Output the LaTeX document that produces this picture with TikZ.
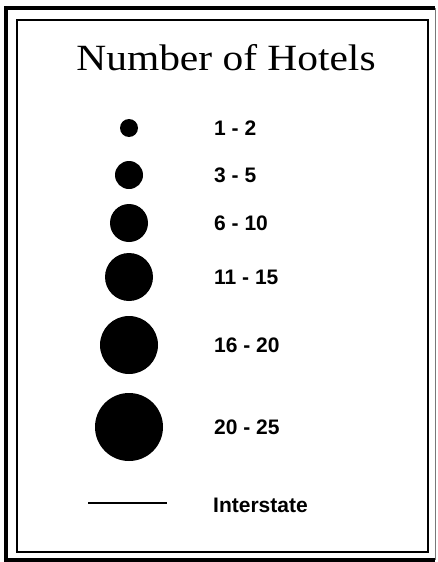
\documentclass[tikz,border=0pt]{standalone}
\usepackage{fontspec}
\usepackage{graphicx}
\usepackage{tikz}
\usetikzlibrary{calc,positioning}
\setmainfont{Liberation Serif}
\newfontfamily\legendsans{Liberation Sans}
\definecolor{frameGray}{RGB}{120,120,120}

\begin{document}
\begin{tikzpicture}[x=1pt,y=-1pt]
\useasboundingbox (0,0) rectangle (437,562);
\tikzset{
  hoteldot/.style={circle, fill=black, inner sep=0pt},
  rangelabel/.style={anchor=west, inner sep=0pt, font=\legendsans\bfseries\fontsize{21}{25}\selectfont}
}
% frames
\draw[line width=3.5pt] (435,8) -- (6,8) -- (6,560) -- (435,560);
\draw[frameGray, line width=0.6pt] (435,8) -- (435,560);
\draw[line width=1.4pt] (17,20) rectangle (428,552);
\node[inner sep=0pt, font=\fontsize{37}{40}\selectfont] (title) at (226,58) {\scalebox{1.12}[1]{Number of Hotels}};
\foreach \n/\d/\y/\t in {1/18/128/1 - 2,2/28/175/3 - 5,3/38/223/6 - 10,4/48/277/11 - 15,5/58/345/16 - 20,6/68/427/20 - 25}
{
\node[hoteldot, minimum size=\d pt] (dot\n) at (129,\y) {};
\node[rangelabel] (range\n) at (214,\y) {\t};
}
\coordinate (roadL) at (88,503);
\coordinate (roadR) at (167,503);
\draw[line width=2pt] (roadL) -- (roadR);
\node[rangelabel] (road) at (213,505) {Interstate};
\end{tikzpicture}
\end{document}
